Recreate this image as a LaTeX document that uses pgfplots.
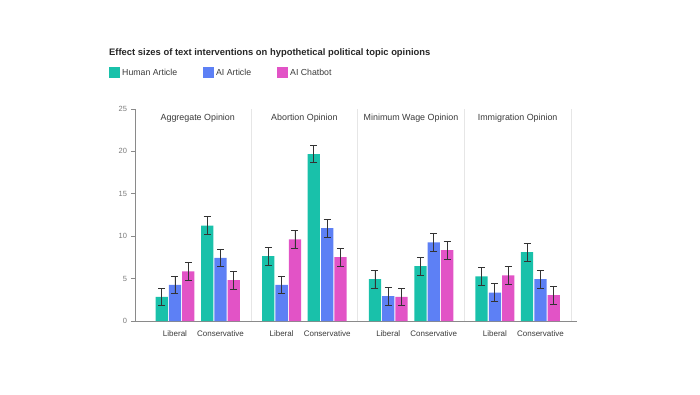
\documentclass[border=0pt]{standalone}
\usepackage{fontspec}
\setmainfont{Liberation Sans}
\usepackage{pgfplots}
\pgfplotsset{compat=1.18}
\usepackage{pgfplotstable}
\definecolor{cTeal}{HTML}{19C1AA}
\definecolor{cBlue}{HTML}{5D80F5}
\definecolor{cPink}{HTML}{E253C6}
\definecolor{cAxis}{HTML}{8A8A8A}
\definecolor{cSep}{HTML}{E6E6E6}
\definecolor{cText}{HTML}{3A3A3A}
\definecolor{cTick}{HTML}{7A7A7A}

\pgfplotstableread{
x      y      e
-0.125 2.84   1.05
0.302  11.24  1.05
0.875  7.65   1.05
1.302  19.68  1.03
1.875  4.93   1.05
2.302  6.47   1.05
2.875  5.25   1.05
3.302  8.12   1.05
}\teal
\pgfplotstableread{
x      y      e
0.000  4.26   1.05
0.427  7.45   1.05
1.000  4.26   1.05
1.427  10.96  1.05
2.000  2.92   1.05
2.427  9.27   1.05
3.000  3.36   1.05
3.427  4.93   1.05
}\blue
\pgfplotstableread{
x      y      e
0.125  5.84   1.05
0.552  4.81   1.05
1.125  9.62   1.05
1.552  7.53   1.05
2.125  2.84   1.05
2.552  8.36   1.05
3.125  5.37   1.05
3.552  3.04   1.05
}\pink

\begin{document}
\begin{tikzpicture}[x=1pt,y=1pt]
\begin{axis}[
  at={(0pt,0pt)}, anchor=south west,
  scale only axis, width=442pt, height=212pt,
  xmin=-0.375, xmax=3.77, ymin=0, ymax=25,
  axis x line*=bottom, axis y line*=left,
  axis line style={cAxis, line width=0.8pt},
  ytick={0,5,10,15,20,25},
  ytick style={cAxis, line width=0.8pt},
  tick align=outside, major tick length=3.5pt,
  yticklabel style={font=\fontsize{7.5}{8}\selectfont, text=cTick, xshift=-1pt},
  /pgf/number format/assume math mode=true,
  xtick={0,0.427,1,1.427,2,2.427,3,3.427},
  xticklabels={Liberal,Conservative,Liberal,Conservative,Liberal,Conservative,Liberal,Conservative},
  x tick style={draw=none},
  xticklabel style={font=\fontsize{8}{9}\selectfont, text=cText, yshift=-2.5pt},
  ybar, bar width=0.115, bar shift=0pt,
  clip=false,
  legend columns=3,
  legend style={at={(-0.0588,1.17)}, anchor=west, draw=none, fill=none, inner sep=0pt,
    font=\fontsize{8.75}{10}\selectfont, text=cText,
    /tikz/every even column/.append style={column sep=24pt}},
  legend image code/.code={\fill[#1] (0pt,-5.5pt) rectangle (11pt,5.5pt);},
  error bars/error bar style={line width=0.8pt, color=black!80},
  error bars/error mark options={rotate=90, mark size=3.5pt, line width=0.8pt, black!80},
]
\foreach \s in {0.7133,1.7133,2.7133,3.7133}{
  \edef\temp{\noexpand\draw[cSep, line width=0.8pt] (axis cs:\s,0) -- (axis cs:\s,25);}
  \temp
}
\addplot[fill=cTeal, draw=none, error bars/.cd, y dir=both, y explicit] table[x=x, y=y, y error=e] {\teal};
\addlegendentry{Human Article}
\addplot[fill=cBlue, draw=none, error bars/.cd, y dir=both, y explicit] table[x=x, y=y, y error=e] {\blue};
\addlegendentry{AI Article}
\addplot[fill=cPink, draw=none, error bars/.cd, y dir=both, y explicit] table[x=x, y=y, y error=e] {\pink};
\addlegendentry{AI Chatbot}
\node[font=\fontsize{8.9}{10}\selectfont, text=cText] at (axis cs:0.2133,23.9) {Aggregate Opinion};
\node[font=\fontsize{8.9}{10}\selectfont, text=cText] at (axis cs:1.2133,23.9) {Abortion Opinion};
\node[font=\fontsize{8.9}{10}\selectfont, text=cText] at (axis cs:2.2133,23.9) {Minimum Wage Opinion};
\node[font=\fontsize{8.9}{10}\selectfont, text=cText] at (axis cs:3.2133,23.9) {Immigration Opinion};
\node[anchor=west, inner sep=0pt, font=\bfseries\fontsize{9.4}{11}\selectfont, text=black!85] at (rel axis cs:-0.0588,1.264) {Effect sizes of text interventions on hypothetical political topic opinions};
\end{axis}
\useasboundingbox (-135,-73) rectangle (565,321);
\end{tikzpicture}
\end{document}
